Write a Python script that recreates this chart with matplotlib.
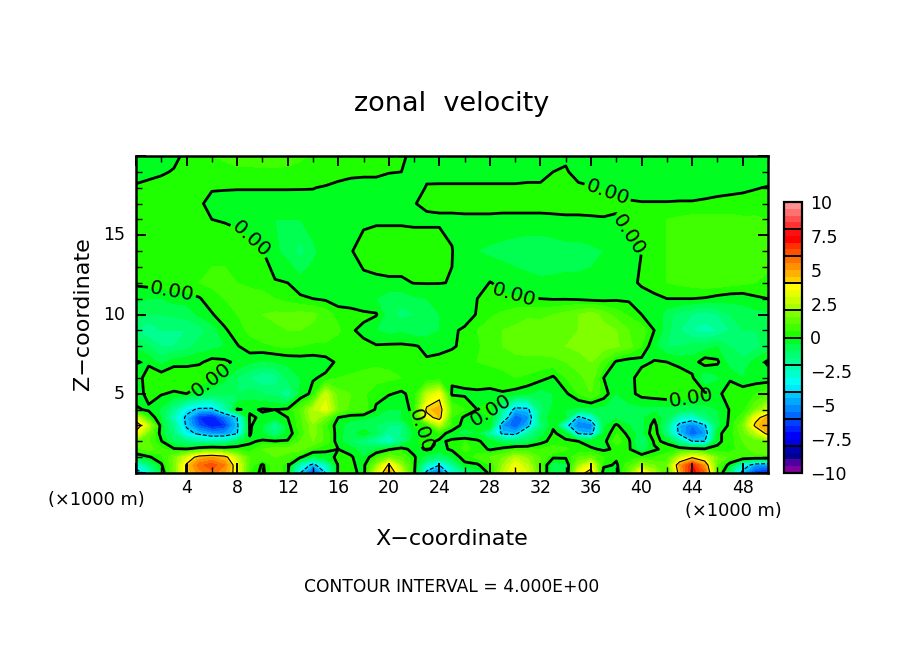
#!/usr/bin/env python3
"""Zonal velocity cross-section, NCAR Graphics look."""

import matplotlib

matplotlib.use("Agg")
import matplotlib.pyplot as plt
import numpy as np
from matplotlib.colors import BoundaryNorm, ListedColormap

W, H = 904, 654

x_km = list(range(51))
z_km = [0, 0.5, 1, 1.5, 2, 2.5, 3, 3.5, 4, 5, 6, 7, 8, 9, 10, 11, 12, 14, 16, 17, 18, 19, 20]

# one row per z level, one value per km in x (m/s)
u_rows = [
    [-5, -3, -0.5, 1.5, 4.2, 5.2, 5.8, 5, 3.5, 0.5, -0.2, 1, 0.1, -4, -6.5, -4, 0.2, 0.3, -0.3, 3, 5, 3, 0.2, -4.5, -6, -3, -1.8, -1, 0.2, 2.5, 3.8, 3, 1, -1, -0.8, 3.5, 4.5, -0.5, -0.3, 1.5, 4.2, 2.5, 0.8, 4.5, 7.5, 6, 1, -1.5, -4.5, -6.5, -7],
    [-3, -1.5, -0.1, 1.5, 4.2, 5.8, 6.3, 5.5, 3.3, 0.8, -0.1, 0.8, 0.3, -2.5, -4.5, -2.5, 0.1, 0.1, -0.2, 1.8, 4.2, 2, 0.2, -2.5, -4, -2, -0.2, -0.1, 0.5, 2, 3.5, 2.5, 0.8, -0.8, -0.6, 2, 3.5, 0.2, -0.1, 0.8, 2, 1.5, 1.2, 5, 7, 5, 1, -0.3, -3, -4.8, -5],
    [-0.6, -0.1, 0.4, 1.5, 3, 4.6, 5, 4.5, 2.5, 1, 0.8, 1, 0.8, 0.1, -0.8, -0.2, 0.1, 0.1, -0.5, 0.6, 1.5, 1, 0.1, -0.8, -1.2, -0.5, 0.3, 0.6, 1, 1.5, 2.5, 1.8, 1, 0.1, 0.1, 1, 1.2, 0.5, 0.1, 0.3, 0.5, 0.5, 0.8, 2.5, 3.8, 3, 1.5, 0.8, 0.8, 0.8, 0.8],
    [0.8, 1.2, 0.6, 0.1, 0.05, 0.5, 0.8, 0.6, 0.5, 0.2, 1, 1.3, 1.2, 1.2, 0.5, 0.1, 0, -0.3, -0.8, -0.5, -0.1, 0.3, -0.3, 0.1, -0.2, 0.1, 0.6, 0.4, -0.1, 0.2, 0.6, 0.6, 0.5, 0.8, 0.6, 0.1, 0.1, -0.1, 0.1, 0.1, -1, -0.1, 0.2, 0.5, 0.4, 0.2, 0.1, 0.3, 0.8, 1.2, 1.5],
    [1.5, 1, 0.05, -1, -1.5, -2, -2.2, -2, -1, -0.1, 0.1, 0.05, 0.05, 1, 1.5, 0.8, -0.3, -1, -1.5, -2, -2.8, -1.5, -0.1, 0.2, -0.1, 0.1, 0.5, 0.1, -0.3, -1, -1.2, -1, -0.2, 0.2, 0.1, 0, -0.3, -0.2, 0.8, 0.1, -1.3, 0.1, -0.1, -2, -4, -4, -0.1, 0.2, 1, 1.2, 1.5],
    [3.5, 1.5, -0.3, -1.5, -3.5, -4.3, -5, -5, -4.1, 0.05, -0.5, -1.5, -0.3, 0.5, 1.8, 0.8, -0.3, -0.8, -0.1, -0.9, -2, -1.5, -0.4, 0, 0.3, -0.3, -0.8, -0.5, -2, -4.3, -4.5, -2, -0.8, 0.1, -0.3, -4.2, -4.5, -0.5, 0.5, -0.2, -0.8, 0.5, -1.5, -4.3, -6, -5, -0.1, 0.2, 1.3, 2.5, 4.5],
    [5, 2.5, -0.3, -1.8, -4.2, -6, -7, -6.5, -4.3, 0.1, -0.5, -2, -0.2, 0.8, 1.8, 0.6, -0.3, -0.8, -0.8, -1, -1.5, -1.5, 0.1, 0.3, 2.5, 0.5, -0.3, -0.2, 0, -5, -6, -4.5, -1.5, -0.1, -3.5, -5.5, -5.5, -0.6, 0.1, -0.5, -0.8, 0.3, -1.5, -4.5, -5.5, -4.2, -0.8, 0.2, 1.5, 4.3, 5],
    [3, 0.5, -0.5, -2.5, -4.3, -6.5, -7, -5.5, -4, 0.1, -0.1, -0.3, 0, 0.8, 2.5, 1.5, 0, -0.3, -0.4, -0.6, -0.8, -0.5, 0.1, 3.5, 4.5, 0.5, -0.1, -0.1, 0, -2.5, -6, -5.2, -1, -0.1, -0.4, -4.5, -3, -0.6, -0.6, -0.8, -0.6, -0.1, -0.8, -2.5, -3, -1.5, -0.6, 0.1, 0.8, 3.5, 4.8],
    [0.1, -0.1, -0.6, -1.8, -3.5, -4.3, -4.3, -2.5, 0.05, -0.1, 0.05, 0, 0.1, 1, 2.5, 3.3, 1.5, 0.8, 0.8, -0.1, -0.5, -0.5, 0.3, 4.3, 4.8, 1, 0.5, 0, 0.1, -1.8, -4.5, -4.3, -1.2, -0.4, -0.5, -0.7, -0.7, -0.7, -0.7, -0.7, -0.7, -0.7, -0.7, -0.8, -1, -0.8, -0.5, 0.05, 0.3, 1.5, 2.8],
    [-0.3, 0.2, 0.05, -0.1, 0, -0.5, -0.8, -0.8, -1, -0.8, -1, -1.2, -2, -0.4, 0.2, 2.8, 1.2, 1, 0.6, 0.2, 0.05, -0.1, 0.2, 2.5, 3.5, -0.1, -0.1, -0.1, -0.1, -0.05, -0.2, -0.4, -0.8, -0.5, -0.1, 0.5, 1, 0.3, -0.5, -0.2, 0.2, 0.3, 0.4, 0.5, 0.4, 0.1, -0.1, 0.2, 0.4, 0.5, 0.8],
    [-0.3, 0.3, 0.4, 0.5, 0.5, 0.5, 0.1, -0.4, -1, -1.5, -2, -1.8, -0.8, -0.5, -0.05, 0.1, 0.5, 0.6, 0.7, 0.7, 0.6, 0.5, 0.2, 0.05, 0.1, 0.1, 0.2, 0.3, 0.2, 0.3, 0.5, 0.4, 0.2, -0.1, 0.5, 0.8, 1.3, 0, -0.3, -0.3, 0.4, 0.5, 0.5, 0.4, 0.1, -1, -0.6, -0.05, -0.5, -0.3, -0.3],
    [0.05, -0.1, -0.7, -0.2, -0.2, -0.1, 0.2, 0.1, -0.1, -0.4, -0.6, -0.5, -0.4, -0.3, -0.3, -0.2, 0.1, 0.2, 0.3, 0.4, 0.4, 0.3, 0.1, 0.05, 0.2, 0.2, 0.4, 0.5, 0.6, 0.7, 0.8, 0.8, 0.8, 0.8, 1, 1.3, 1.5, 0.8, -0.1, -0.3, -0.2, 0.05, 0, -0.2, -0.3, 0.3, 0.1, -0.8, -0.8, -0.3, 0.1],
    [-0.6, -1, -1.5, -1.5, -1.2, -0.8, -0.7, -0.5, -0.05, 0.3, 0.4, 0.5, 0.6, 0.5, 0.4, 0.4, 0.2, 0.15, 0.1, 0.05, 0.1, 0.1, 0.05, -0.1, -0.2, -0.05, 0.1, 0.4, 0.8, 1, 1.2, 1.3, 1.3, 1.4, 1.5, 1.6, 1.8, 1.7, 1.6, 1.2, 0.5, -0.4, -1, -1, -0.8, -0.8, -0.5, -1, -1.5, -1.2, -0.8],
    [-1.5, -2, -1.5, -1.5, -1.5, -1.2, -0.8, -0.1, 0.3, 0.6, 0.8, 0.9, 1, 1, 0.9, 0.8, 0.6, 0.05, -0.1, -0.5, -0.7, -0.6, -0.8, -0.8, -0.5, -0.1, 0.1, 0.5, 0.8, 1, 1.1, 1.3, 1.2, 1.2, 1.3, 1.5, 1.8, 1.7, 1.5, 1, 0.8, 0, -0.8, -1.5, -2, -2.2, -2, -1.5, -1, -1, -0.8],
    [-0.8, -1, -1, -0.9, -0.8, -0.4, -0.05, 0.3, 0.5, 0.8, 1, 1.1, 1.1, 1.2, 1.1, 0.8, 0.3, 0.2, 0.1, 0.05, -0.8, -1.2, -1, -0.8, -0.5, -0.3, -0.3, 0.05, 0.4, 0.6, 0.8, 0.9, 0.9, 1, 1.2, 1.5, 1.8, 1.3, 0.8, 0.4, 0, 0, -0.8, -1.2, -1.5, -1.8, -1.5, -1, -0.8, -0.7, -0.6],
    [-0.4, -0.5, -0.5, -0.3, -0.3, -0.05, 0.3, 0.5, 0.6, 0.7, 0.7, 0.5, 0.3, 0.1, 0, -0.1, -0.3, -0.3, -0.4, -0.5, -0.8, -0.8, -0.6, -0.5, -0.4, -0.4, -0.3, 0, 0.1, 0.05, 0.05, 0.05, 0, -0.05, -0.05, -0.1, -0.2, -0.2, -0.1, -0.1, -0.3, -0.2, 0, 0, 0, -0.05, -0.2, -0.3, -0.3, -0.1, 0],
    [0.1, 0.2, 0.3, 0.4, 0.5, 0.5, 0.6, 0.6, 0.5, 0.4, 0.3, 0.05, 0, -0.3, -0.3, -0.3, -0.3, -0.2, -0.2, -0.15, -0.1, -0.1, 0.02, 0.03, 0.02, -0.02, -0.3, -0.3, 0.02, -0.1, -0.2, -0.3, -0.4, -0.4, -0.4, -0.4, -0.4, -0.4, -0.3, -0.2, 0.1, 0.4, 0.5, 0.6, 0.7, 0.8, 0.8, 0.7, 0.6, 0.5, 0.4],
    [0.2, 0.25, 0.3, 0.3, 0.4, 0.4, 0.4, 0.4, 0.4, 0.2, 0.02, -0.4, -0.7, -1.2, -0.6, -0.3, -0.2, -0.05, 0.3, 0.4, 0.4, 0.4, 0.3, 0.3, 0.3, 0.02, -0.4, -0.5, -0.6, -0.7, -0.8, -0.9, -0.9, -0.8, -0.7, -0.7, -0.6, -0.5, -0.3, -0.1, 0, 0.3, 0.5, 0.7, 0.8, 0.9, 0.9, 0.8, 0.8, 0.7, 0.7],
    [0.3, 0.3, 0.3, 0.3, 0.3, 0.15, 0, -0.05, -0.15, -0.3, -0.4, -0.5, -0.5, -0.5, -0.3, -0.3, -0.2, -0.2, -0.15, -0.1, -0.1, -0.1, -0.1, -0.1, -0.1, -0.1, -0.08, -0.08, -0.08, -0.1, -0.1, -0.1, -0.1, -0.08, -0.06, -0.06, -0.06, -0.04, -0.03, 0.1, 0.3, 0.4, 0.5, 0.6, 0.7, 0.7, 0.7, 0.7, 0.6, 0.6, 0.5],
    [0.25, 0.3, 0.3, 0.3, 0.3, 0.05, -0.1, -0.15, -0.2, -0.2, -0.2, -0.2, -0.2, -0.15, -0.1, -0.1, -0.1, -0.1, -0.1, -0.1, -0.1, -0.1, -0.02, 0.1, 0.15, 0.15, 0.15, 0.15, 0.15, 0.15, 0.15, 0.15, 0.15, 0.15, 0.15, 0.15, 0.2, 0.2, 0.05, 0.03, 0.02, 0.02, 0.02, 0.03, 0.03, 0.05, 0.08, 0.1, 0.1, 0.15, 0.2],
    [0.05, 0.1, 0.15, 0.2, 0.2, 0.2, 0.03, 0.03, 0.03, 0.03, 0.03, 0.03, 0.03, 0.02, 0.01, -0.03, -0.1, -0.15, -0.2, -0.2, -0.2, -0.2, -0.2, 0.03, 0.05, 0.05, 0.05, 0.05, 0.05, 0.05, 0.05, 0.05, 0.05, 0.05, 0.1, 0.05, 0.02, -0.05, -0.05, -0.1, -0.15, -0.15, -0.15, -0.15, -0.15, -0.12, -0.1, -0.08, -0.05, -0.02, 0.02],
    [-0.15, -0.1, -0.05, 0.03, 0.2, 0.3, 0.3, 0.3, 0.4, 0.4, 0.4, 0.4, 0.4, 0.3, 0.25, 0.2, 0.15, 0.1, 0.1, 0.1, 0.02, 0, -0.2, -0.1, -0.15, -0.15, -0.15, -0.15, -0.15, -0.15, -0.15, -0.1, -0.1, 0, 0.03, -0.1, -0.15, -0.15, -0.15, -0.15, -0.15, -0.15, -0.15, -0.15, -0.15, -0.15, -0.15, -0.2, -0.2, -0.2, -0.2],
    [-0.3, -0.25, -0.2, -0.1, 0.1, 0.4, 0.5, 0.6, 0.7, 0.7, 0.8, 0.8, 0.7, 0.6, 0.4, 0.3, 0.2, 0.15, 0.15, 0.1, 0.1, 0.03, -0.05, -0.2, -0.2, -0.25, -0.25, -0.25, -0.25, -0.25, -0.25, -0.2, -0.2, -0.1, -0.05, -0.2, -0.25, -0.25, -0.25, -0.3, -0.3, -0.3, -0.3, -0.3, -0.3, -0.3, -0.3, -0.3, -0.3, -0.3, -0.3],
]

# shades of the colour bar, bottom to top, one per half unit
bar_colors = [
    "#8000a0", "#5000a0", "#000090", "#0000b0",
    "#0000e0", "#0000ff", "#0020ff", "#0040ff",
    "#0068ff", "#0088ff", "#00a8ff", "#00c8ff",
    "#00e8ff", "#00fff0", "#00ffd0", "#00ffb0",
    "#00ff90", "#00ff70", "#00ff50", "#00ff20",
    "#20ff00", "#40ff00", "#60ff00", "#80ff00",
    "#a8ff00", "#c8ff00", "#e8ff00", "#ffff00",
    "#ffd000", "#ffb000", "#ff9000", "#ff7000",
    "#ff5000", "#ff3000", "#ff0000", "#ff1010",
    "#ff3030", "#ff5050", "#ff7070", "#ff9090",
]
bar_ticks = [-10, -7.5, -5, -2.5, 0, 2.5, 5, 7.5, 10]
bar_tick_labels = ["\u221210", "\u22127.5", "\u22125", "\u22122.5", "0", "2.5", "5", "7.5", "10"]
x_tick_labels = [4, 8, 12, 16, 20, 24, 28, 32, 36, 40, 44, 48]
z_tick_labels = [5, 10, 15]
# where the 0.00 labels sit, (x km, z km)
label_spots = [(2.9, 11.6), (9.0, 14.7), (5.9, 6.0), (28.5, 3.9), (22.5, 2.6),
               (30.0, 11.6), (37.3, 17.7), (38.9, 15.0), (44.0, 4.3)]


def px_text(fig, x, y, s, **kw):
    fig.text(x / W, 1 - y / H, s, ha="center", va="center", color="black", **kw)


def main():
    fig = plt.figure(figsize=(W / 100, H / 100), dpi=100)
    ax = fig.add_axes([136 / W, 1 - 473 / H, 632 / W, 317 / H])

    u = np.array(u_rows)
    levels = np.arange(-10, 10.5, 0.5)
    cmap = ListedColormap(bar_colors)
    norm = BoundaryNorm(levels, cmap.N)
    cf = ax.contourf(x_km, z_km, u, levels=levels, cmap=cmap, norm=norm, antialiased=False)

    ax.contour(x_km, z_km, u, levels=[-8, -4], colors="black", linewidths=0.8, linestyles="dashed")
    ax.contour(x_km, z_km, u, levels=[4, 8], colors="black", linewidths=0.8, linestyles="solid")
    zero = ax.contour(x_km, z_km, u, levels=[0], colors="black", linewidths=2, linestyles="solid")
    ax.clabel(zero, fmt="%.2f", fontsize=14.5, inline=True, inline_spacing=2, manual=label_spots)

    ax.set_xlim(0, 50)
    ax.set_ylim(0, 20)
    ax.set_xticks(np.arange(0, 51, 4))
    ax.set_xticks(np.arange(0, 51, 2), minor=True)
    ax.set_yticks(np.arange(0, 21, 5))
    ax.set_yticks(np.arange(0, 21, 1), minor=True)
    ax.tick_params(which="major", direction="in", top=True, right=True, length=7, width=1.4, labelbottom=False, labelleft=False)
    ax.tick_params(which="minor", direction="in", top=True, right=True, length=4, width=1)
    for side in ax.spines.values():
        side.set_linewidth(1.8)

    for val in x_tick_labels:
        px_text(fig, 136 + val * 632 / 50, 488, str(val), fontsize=12.5)
    for val in z_tick_labels:
        fig.text(125 / W, 1 - (473 - val * 317 / 20) / H, str(val), ha="right", va="center", fontsize=12.5)

    cax = fig.add_axes([784 / W, 1 - 473 / H, 18 / W, 271 / H])
    bar = fig.colorbar(cf, cax=cax, ticks=bar_ticks)
    bar.ax.set_yticklabels(bar_tick_labels, fontsize=12.5)
    bar.ax.tick_params(length=0, pad=6)
    bar.ax.minorticks_off()
    bar.outline.set_linewidth(1.6)
    bar.ax.hlines(np.arange(-8, 9, 2), 0, 1, transform=bar.ax.get_yaxis_transform(), colors="black", linewidth=1.4)

    px_text(fig, 452, 104, "zonal  velocity", fontsize=19.5)
    px_text(fig, 452, 539, "X\u2212coordinate", fontsize=16)
    px_text(fig, 83, 314, "Z\u2212coordinate", fontsize=16, rotation=90)
    px_text(fig, 96, 500, "(\u00d71000 m)", fontsize=12.8)
    px_text(fig, 733, 511, "(\u00d71000 m)", fontsize=12.8)
    px_text(fig, 452, 587, "CONTOUR INTERVAL = 4.000E+00", fontsize=12.3)

    fig.savefig("out.png", dpi=100)
    plt.close(fig)


if __name__ == "__main__":
    main()
